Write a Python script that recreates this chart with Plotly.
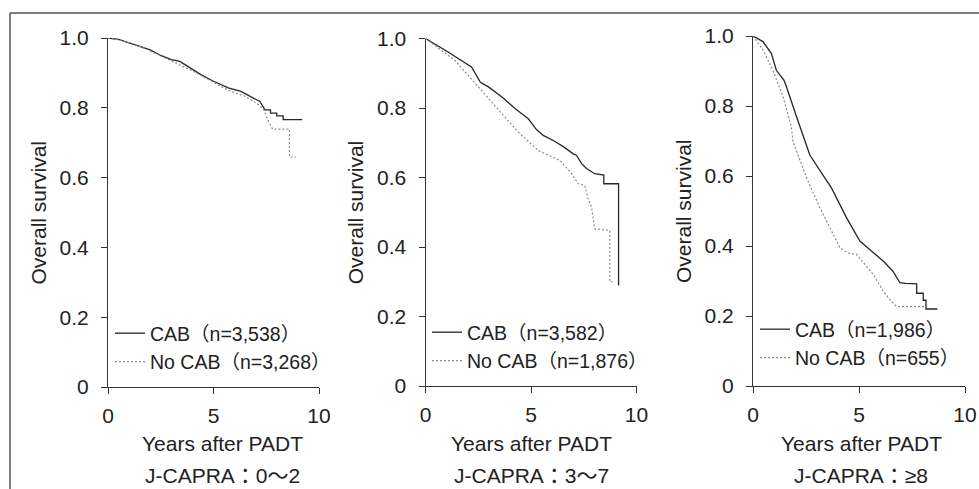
import plotly.graph_objects as go

W, H = 979, 489
OFF = 0  # page body margin is removed below, so screen pixels == figure pixels
FONT = "Liberation Sans, Arial, Noto Sans CJK JP, sans-serif"
TXT = "#222222"
AX = "#333333"

# ---------------- data ----------------
# Panel 1: J-CAPRA 0-2
p1_cab_t = [0, 0.5, 1.0, 1.5, 2.0, 2.5, 3.0, 3.2, 3.4, 3.8, 4.4, 5.0, 5.4, 5.7, 6.3, 6.9, 7.2,
            7.44, 7.7, 7.7, 8.0, 8.0, 8.3, 8.3, 9.2]
p1_cab_s = [1.0, 0.996, 0.986, 0.977, 0.966, 0.950, 0.938, 0.936, 0.933, 0.918, 0.895, 0.876, 0.866,
            0.857, 0.847, 0.829, 0.818, 0.794, 0.794, 0.785, 0.785, 0.777, 0.777, 0.766, 0.766]
p1_no_t = [0, 0.5, 1.0, 1.5, 2.0, 2.5, 3.0, 3.5, 4.0, 4.5, 5.0, 5.5, 6.0, 6.5, 6.9, 7.2, 7.4,
           7.55, 7.8, 8.6, 8.6, 8.9]
p1_no_s = [1.0, 0.995, 0.986, 0.976, 0.963, 0.949, 0.935, 0.921, 0.906, 0.890, 0.874, 0.856,
           0.843, 0.833, 0.818, 0.806, 0.793, 0.768, 0.739, 0.739, 0.659, 0.659]

# Panel 2: J-CAPRA 3-7
p2_cab_t = [0, 1.07, 2.18, 2.6, 3.0, 3.65, 4.3, 4.87, 5.26, 5.58, 6.1, 6.6, 7.0, 7.15, 7.4, 7.63,
            8.02, 8.45, 8.45, 9.15, 9.15]
p2_cab_s = [1.0, 0.961, 0.918, 0.874, 0.860, 0.830, 0.796, 0.769, 0.738, 0.721, 0.705, 0.686,
            0.668, 0.664, 0.640, 0.626, 0.611, 0.607, 0.582, 0.582, 0.289]
p2_no_t = [0, 1.39, 2.3, 3.2, 3.8, 4.35, 5.34, 6.0, 6.37, 6.92, 7.24, 7.55, 7.7, 7.87, 8.02,
           8.73, 8.73, 8.9]
p2_no_s = [1.0, 0.937, 0.875, 0.812, 0.772, 0.733, 0.678, 0.660, 0.649, 0.611, 0.582, 0.577,
           0.540, 0.515, 0.452, 0.448, 0.300, 0.300]

# Panel 3: J-CAPRA >= 8
p3_cab_t = [0, 0.47, 0.87, 1.10, 1.45, 1.52, 1.55, 2.05, 2.68, 3.2, 3.7, 4.41, 5.04, 5.6, 6.14,
            6.6, 6.93, 7.2, 7.72, 7.72, 8.03, 8.03, 8.16, 8.16, 8.7]
p3_cab_s = [1.0, 0.984, 0.950, 0.902, 0.875, 0.866, 0.860, 0.770, 0.660, 0.612, 0.566, 0.481,
            0.414, 0.385, 0.357, 0.328, 0.295, 0.293, 0.292, 0.265, 0.265, 0.245, 0.245, 0.220,
            0.220]
p3_no_t = [0, 0.47, 0.94, 1.42, 1.81, 1.89, 2.52, 3.15, 3.62, 4.10, 4.5, 4.88, 5.67, 6.14, 6.46,
           6.77, 8.1]
p3_no_s = [1.0, 0.960, 0.902, 0.826, 0.740, 0.697, 0.596, 0.510, 0.453, 0.395, 0.380, 0.376,
           0.319, 0.271, 0.247, 0.227, 0.227]

legend_names = [
    ["CAB（n=3,538）", "No CAB（n=3,268）"],
    ["CAB（n=3,582）", "No CAB（n=1,876）"],
    ["CAB（n=1,986）", "No CAB（n=655）"],
]
group_labels = ["J-CAPRA：0～2", "J-CAPRA：3～7", "J-CAPRA：≥8"]
x_title = "Years after PADT"
y_title = "Overall survival"
y_tickvals = [0, 0.2, 0.4, 0.6, 0.8, 1.0]
y_ticktext = ["0", "0.2", "0.4", "0.6", "0.8", "1.0"]
x_tickvals = [0, 5, 10]
x_ticktext = ["0", "5", "10"]


def fx(px):  # screen pixel -> paper fraction (x)
    return (px - OFF) / W


def fy(py):  # screen pixel -> paper fraction (y)
    return 1 - (py - OFF) / H


# ---------------- layout geometry (screen pixels) ----------------
panels_px = [  # x0, x1, ytop, ybottom
    (108, 319, 38, 387),
    (425.5, 636.5, 38.5, 386),
    (753, 965, 36, 386),
]
series = [
    (p1_cab_t, p1_cab_s, p1_no_t, p1_no_s),
    (p2_cab_t, p2_cab_s, p2_no_t, p2_no_s),
    (p3_cab_t, p3_cab_s, p3_no_t, p3_no_s),
]
title_cx = [222, 531, 861]
ytitle_cx = [38, 355, 683]
legend_x = [110, 427, 755]
legend_y = [314, 313, 310]

fig = go.Figure()
layout = dict(
    width=W, height=H,
    margin=dict(l=0, r=0, t=0, b=0, autoexpand=False),
    paper_bgcolor="white", plot_bgcolor="white",
    font=dict(family=FONT, color=TXT, size=19),
    annotations=[], shapes=[],
)

for i, ((x0, x1, yt, yb), (ct, cs, nt, ns)) in enumerate(zip(panels_px, series)):
    sfx = "" if i == 0 else str(i + 1)
    xa, ya = "x" + sfx, "y" + sfx
    lg = "legend" + sfx
    fig.add_trace(go.Scatter(x=ct, y=cs, mode="lines", name=legend_names[i][0],
                             line=dict(color="#262626", width=1.3),
                             xaxis=xa, yaxis=ya, legend=lg))
    fig.add_trace(go.Scatter(x=nt, y=ns, mode="lines", name=legend_names[i][1],
                             line=dict(color="#8a8a8a", width=1.2, dash="2px,2px"),
                             xaxis=xa, yaxis=ya, legend=lg))
    layout["xaxis" + sfx] = dict(
        domain=[fx(x0), fx(x1)], anchor=ya, range=[0, 10],
        tickmode="array", tickvals=x_tickvals, ticktext=x_ticktext,
        showline=True, linecolor=AX, linewidth=1, ticks="outside", ticklen=6,
        tickcolor=AX, tickwidth=1, showgrid=False, zeroline=False,
        tickfont=dict(size=21, color=TXT, family=FONT), ticklabelstandoff=4,
        ticklabeloverflow="allow",
    )
    layout["yaxis" + sfx] = dict(
        domain=[fy(yb), fy(yt)], anchor=xa, range=[0, 1],
        tickmode="array", tickvals=y_tickvals, ticktext=y_ticktext,
        showline=True, linecolor=AX, linewidth=1, ticks="outside", ticklen=6,
        tickcolor=AX, tickwidth=1, showgrid=False, zeroline=False,
        tickfont=dict(size=21, color=TXT, family=FONT), ticklabelstandoff=8,
    )
    layout[lg] = dict(
        x=fx(legend_x[i]), y=fy(legend_y[i]), xanchor="left", yanchor="top",
        bgcolor="rgba(0,0,0,0)", borderwidth=0, tracegroupgap=0,
        font=dict(size=19.5, color=TXT, family=FONT),
    )
    layout["annotations"].append(dict(
        text=x_title, x=fx(title_cx[i]), y=fy(443), xref="paper", yref="paper",
        xanchor="center", yanchor="middle", showarrow=False,
        font=dict(size=21, color=TXT, family=FONT)))
    layout["annotations"].append(dict(
        text=group_labels[i], x=fx(title_cx[i]), y=fy(475), xref="paper", yref="paper",
        xanchor="center", yanchor="middle", showarrow=False,
        font=dict(size=21, color=TXT, family=FONT)))
    layout["annotations"].append(dict(
        text=y_title, x=fx(ytitle_cx[i]), y=fy((yt + yb) / 2), xref="paper",
        yref="paper", xanchor="center", yanchor="middle", textangle=-90, showarrow=False,
        font=dict(size=21, color=TXT, family=FONT)))

# outer frame (top and left edges visible in the reference)
layout["shapes"] = [
    dict(type="line", xref="paper", yref="paper", x0=fx(10), x1=1, y0=fy(13), y1=fy(13),
         line=dict(color="#555555", width=1.5)),
    dict(type="line", xref="paper", yref="paper", x0=fx(10), x1=fx(10), y0=0, y1=fy(13),
         line=dict(color="#555555", width=1.5)),
]

fig.update_layout(**layout)
fig.write_html("out.html",
               config={"displayModeBar": False},
               post_script="document.body.style.margin='0';document.body.style.overflow='hidden';")
